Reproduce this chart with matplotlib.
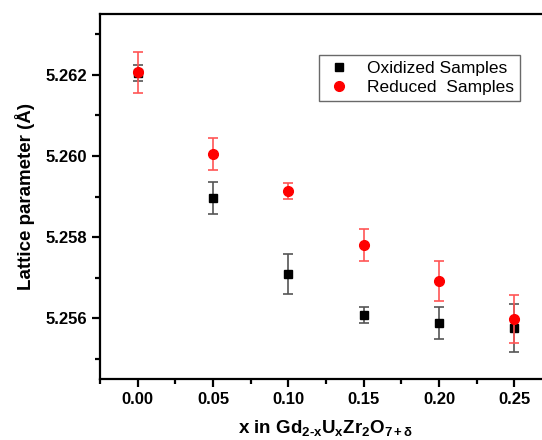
import numpy as np
import matplotlib
matplotlib.use("Agg")
import matplotlib.pyplot as plt
from matplotlib.ticker import MultipleLocator
from matplotlib.lines import Line2D

plt.rcParams['font.family'] = ['Liberation Sans', 'DejaVu Sans']
plt.rcParams['mathtext.fontset'] = 'custom'
plt.rcParams['mathtext.rm'] = 'Liberation Sans:bold'
plt.rcParams['mathtext.it'] = 'Liberation Sans:bold'
plt.rcParams['mathtext.bf'] = 'Liberation Sans:bold'

# composition x
x_vals = [0.00, 0.05, 0.10, 0.15, 0.20, 0.25]

# oxidized samples
ox_a = [5.26205, 5.25896, 5.25709, 5.25607, 5.25588, 5.25576]
ox_err = [0.0002, 0.0004, 0.0005, 0.0002, 0.0004, 0.0006]

# reduced samples
red_a = [5.26206, 5.26005, 5.25913, 5.25781, 5.25692, 5.25598]
red_err = [0.0005, 0.0004, 0.0002, 0.0004, 0.0005, 0.0006]

fig = plt.figure(figsize=(5.42, 4.40), dpi=100)
ax = fig.add_axes([0.1845, 0.1386, 0.834, 0.8296])

ax.errorbar(x_vals, ox_a, yerr=ox_err, fmt='s', color='black', ms=5.2,
            ecolor='#555555', elinewidth=1.2, capsize=3.5, capthick=1.2, zorder=3)
ax.errorbar(x_vals, red_a, yerr=red_err, fmt='o', color='red', ms=7,
            ecolor='#ff5555', elinewidth=1.2, capsize=3.5, capthick=1.2, zorder=4)

ax.set_xlim(-0.025, 0.275)
ax.set_ylim(5.2545, 5.2635)
ax.xaxis.set_major_locator(MultipleLocator(0.05))
ax.xaxis.set_minor_locator(MultipleLocator(0.025))
ax.yaxis.set_major_locator(MultipleLocator(0.002))
ax.yaxis.set_minor_locator(MultipleLocator(0.001))
ax.xaxis.set_major_formatter(plt.FormatStrFormatter('%.2f'))
ax.yaxis.set_major_formatter(plt.FormatStrFormatter('%.3f'))

for s in ax.spines.values():
    s.set_linewidth(1.6)
ax.tick_params(which='both', direction='out', top=False, right=False, width=1.6)
ax.tick_params(which='major', length=6, labelsize=12, pad=3)
ax.tick_params(which='minor', length=3.5)
for lab in ax.get_xticklabels() + ax.get_yticklabels():
    lab.set_fontweight('bold')

ax.set_ylabel('Lattice parameter (Å)', fontsize=13.5, fontweight='bold', labelpad=8)
ax.set_xlabel(r'x in Gd$_{2\text{-}x}$U$_{x}$Zr$_{2}$O$_{7+\delta}$',
              fontsize=13.5, fontweight='bold', labelpad=8)

handles = [Line2D([], [], ls='none', marker='s', color='black', ms=5.2),
           Line2D([], [], ls='none', marker='o', color='red', ms=7)]
labels = ['Oxidized Samples', 'Reduced  Samples']
leg = ax.legend(handles, labels, loc='upper left',
                bbox_to_anchor=(319 / 542, 1 - 55 / 440),
                bbox_transform=fig.transFigure, borderaxespad=0, fontsize=12.5,
                fancybox=False, frameon=True, numpoints=1, handlelength=1.6,
                handletextpad=0.8, borderpad=0.35, labelspacing=0.2)
leg.get_frame().set_edgecolor('#444444')
leg.get_frame().set_linewidth(1.0)

fig.savefig('out.png', dpi=100)
